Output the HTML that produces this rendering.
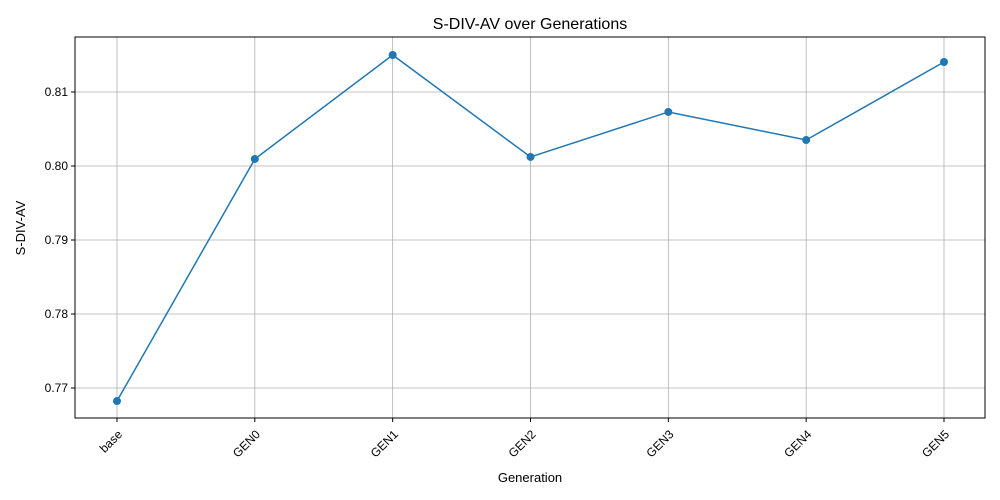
<!DOCTYPE html>
<html><head><meta charset="utf-8">
<style>
html,body{margin:0;padding:0;background:#fff;}
svg{display:block;font-family:"Liberation Sans","DejaVu Sans",sans-serif;}
</style></head>
<body>
<svg id="chart" width="1000" height="500" viewBox="0 0 1000 500">
<rect x="0" y="0" width="1000" height="500" fill="#fff"/>
<text x="530" y="29" text-anchor="middle" font-size="16" fill="#000">S-DIV-AV over Generations</text>
<g id="grid"></g>
<g id="xticks"></g>
<g id="yticks"></g>
<g id="series"></g>
<rect x="75" y="37" width="910" height="381" fill="none" stroke="#000" stroke-width="1"/>
<text x="530" y="482" text-anchor="middle" font-size="13">Generation</text>
<text x="0" y="0" text-anchor="middle" font-size="13" transform="translate(25,228) rotate(-90)">S-DIV-AV</text>
</svg>
<script>
const categories = ["base","GEN0","GEN1","GEN2","GEN3","GEN4","GEN5"];
const values = [0.76824,0.80095,0.8150,0.80122,0.80730,0.80351,0.81405];
const yTicks = [0.77,0.78,0.79,0.80,0.81];
const yTickLabels = ["0.77","0.78","0.79","0.80","0.81"];

const NS="http://www.w3.org/2000/svg";
const L=75,R=985,T=37,B=418;
const yMin=0.76595,yMax=0.81743;
const x0=117,x1=944;
function xs(i){return x0+(x1-x0)*i/(categories.length-1);}
function ys(v){return B-(v-yMin)/(yMax-yMin)*(B-T);}
function mk(tag,attrs,parent){const e=document.createElementNS(NS,tag);for(const k in attrs)e.setAttribute(k,attrs[k]);parent.appendChild(e);return e;}
const grid=document.getElementById('grid'),xt=document.getElementById('xticks'),yt=document.getElementById('yticks'),ser=document.getElementById('series');
categories.forEach((c,i)=>{
  const x=xs(i);
  const g=mk('line',{x1:x,x2:x,y1:T,y2:B,stroke:'#b0b0b0','stroke-width':0.8},grid);
  
  
  const t=mk('line',{x1:x,x2:x,y1:B,y2:B+4,stroke:'#000'},xt);
  
  
  const tx=mk('text',{x:0,y:0,'font-size':12,'text-anchor':'end',transform:`translate(${x+6},${B+17}) rotate(-45)`},xt);
  tx.textContent=c;
  
  
});
yTicks.forEach((v,i)=>{
  const y=ys(v);
  const g=mk('line',{x1:L,x2:R,y1:y,y2:y,stroke:'#b0b0b0','stroke-width':0.8},grid);
  
  
  const t=mk('line',{x1:L-4,x2:L,y1:y,y2:y,stroke:'#000'},yt);
  
  
  const tx=mk('text',{x:L-7,y:y+4,'font-size':12,'text-anchor':'end'},yt);
  tx.textContent=yTickLabels[i];
  
  
});
const pts=values.map((v,i)=>xs(i)+','+ys(v)).join(' ');
const pl=mk('polyline',{points:pts,fill:'none',stroke:'#1f77b4','stroke-width':1.5},ser);


values.forEach((v,i)=>{
  const c=mk('circle',{cx:xs(i),cy:ys(v),r:4,fill:'#1f77b4'},ser);
  
  
});
</script>
</body></html>
